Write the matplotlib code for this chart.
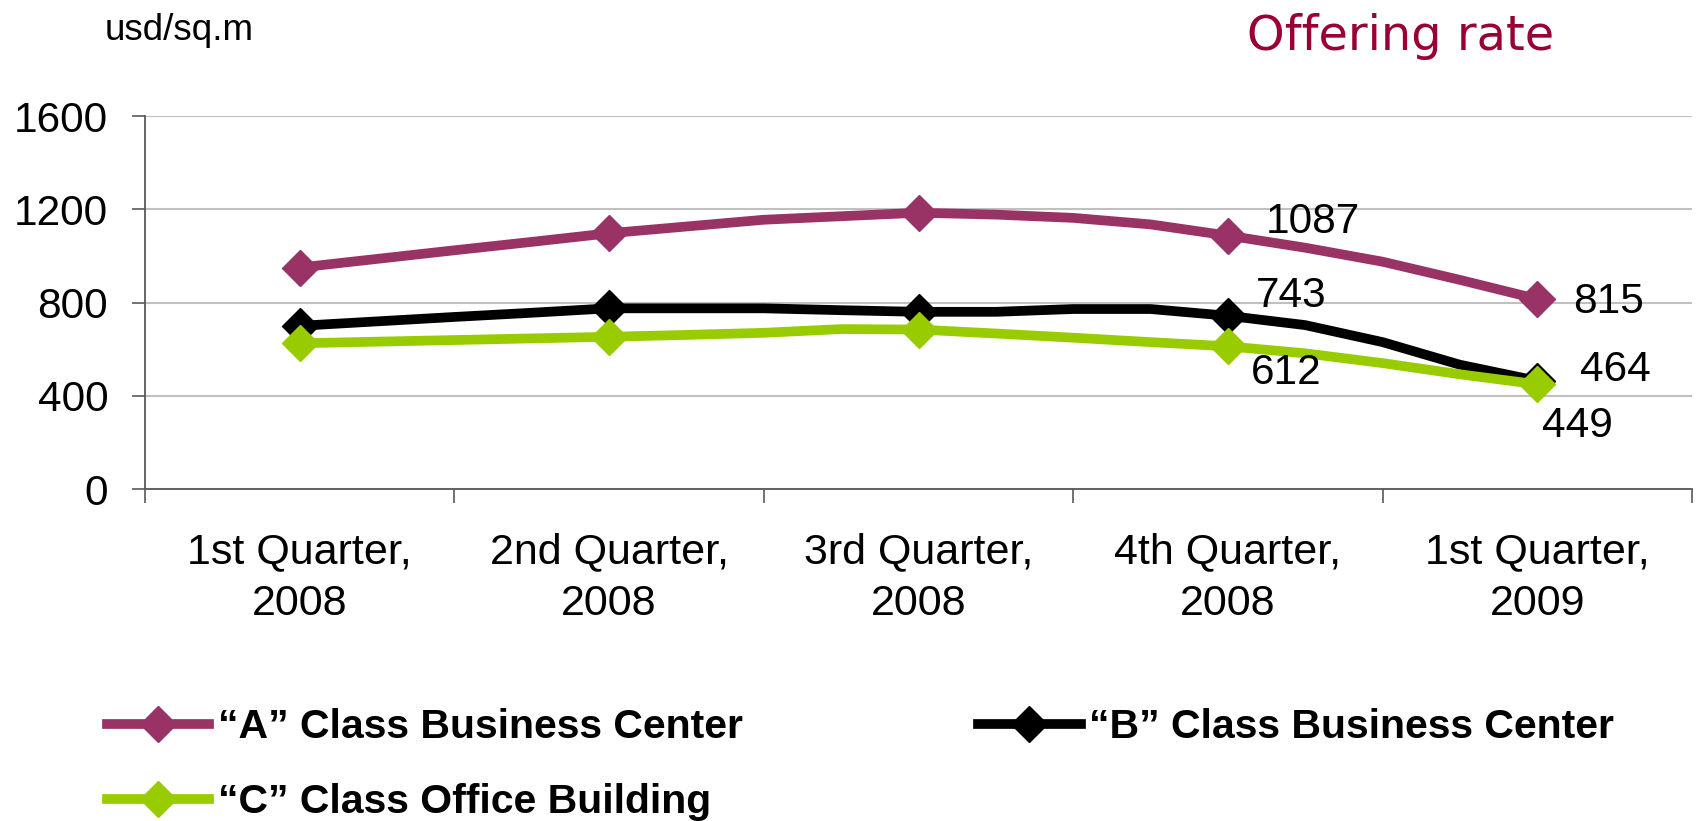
import numpy as np
import matplotlib
matplotlib.use("Agg")
import matplotlib.pyplot as plt
from matplotlib.lines import Line2D

plt.rcParams['font.family'] = ['Liberation Sans', 'DejaVu Sans']

# categories (one marker per quarter, 4 steps between quarters)
quarters = ["1st Quarter,\n2008", "2nd Quarter,\n2008", "3rd Quarter,\n2008",
            "4th Quarter,\n2008", "1st Quarter,\n2009"]
steps = np.arange(17) / 4.0

class_a = [950, 987, 1024, 1060, 1097, 1126, 1155, 1170, 1185,
           1177, 1163, 1135, 1087, 1035, 975, 897, 815]
class_b = [700, 719, 738, 756, 775, 775, 775, 767, 760,
           760, 772, 772, 743, 703, 630, 533, 464]
class_c = [625, 632, 639, 646, 653, 661, 670, 686, 684,
           667, 649, 630, 612, 582, 540, 492, 449]

names = ['\u201cA\u201d Class Business Center',
         '\u201cB\u201d Class Business Center',
         '\u201cC\u201d Class Office Building']
colors = ['#993366', '#000000', '#99CC00']

# data label offsets in pixels (Q4 2008, Q1 2009)
label_offsets = [[(38, 14), (36, -3)],
                 [(28, 20), (43, 11)],
                 [(23, -27), (5, -42)]]

fig = plt.figure(figsize=(16.96, 8.21), dpi=100)
ax = fig.add_axes([145/1696, 1-489/821, (1692-145)/1696, (489-116)/821])

for vals, name, col, offs in zip([class_a, class_b, class_c], names, colors, label_offsets):
    ax.plot(steps, vals, '-', color=col, lw=7, marker='D', markevery=4,
            ms=18.5, mec=col, mfc=col, mew=1, solid_joinstyle='round',
            label=name, zorder=3)
    for idx, (dx, dy) in zip([12, 16], offs):
        ax.annotate(str(vals[idx]), xy=(steps[idx], vals[idx]), xytext=(dx, dy),
                    textcoords='offset pixels', ha='left', va='center',
                    fontsize=30.5, color='black', zorder=4)

ax.set_xlim(-0.5, 4.5)
ax.set_ylim(0, 1600)
ax.set_yticks([0, 400, 800, 1200, 1600])
ax.yaxis.grid(True, color='#C0C0C0', lw=1.5)
ax.set_axisbelow(True)

ax.set_xticks(np.arange(-0.5, 5, 1.0))
ax.set_xticklabels([])
ax.set_xticks(np.arange(5), minor=True)
ax.set_xticklabels(quarters, minor=True, fontsize=31, linespacing=1.4)
ax.tick_params(axis='x', which='major', length=10, width=1.2, color='#595959', direction='out')
ax.tick_params(axis='x', which='minor', length=0, pad=31)
ax.tick_params(axis='y', length=9.5, width=1.2, color='#595959', pad=17, labelsize=30.5)

for s in ['top', 'right']:
    ax.spines[s].set_visible(False)
for s in ['left', 'bottom']:
    ax.spines[s].set_color('#595959')
    ax.spines[s].set_linewidth(1.3)

fig.text(105/1696, 1-30/821, 'usd/sq.m', fontsize=26.5, ha='left', va='center')
fig.text(1401/1696, 1-37/821, 'Offering rate', fontsize=34.5, color='#990033',
         ha='center', va='center', family='DejaVu Sans')

leg_handles = [Line2D([], [], color=c, lw=7, marker='D', ms=18.5, mec=c, mfc=c)
               for c in colors]
order = [0, 2, 1]
fig.legend([leg_handles[i] for i in order], [names[i] for i in order],
           loc='upper left', bbox_to_anchor=(107/1696, 1-708/821), ncol=2,
           frameon=False, borderpad=0, borderaxespad=0, handlelength=2.5,
           handletextpad=0.2, columnspacing=5.75, labelspacing=0.9,
           numpoints=1, prop={'weight': 'bold', 'size': 29.5})

plt.savefig("out.png", dpi=100)
